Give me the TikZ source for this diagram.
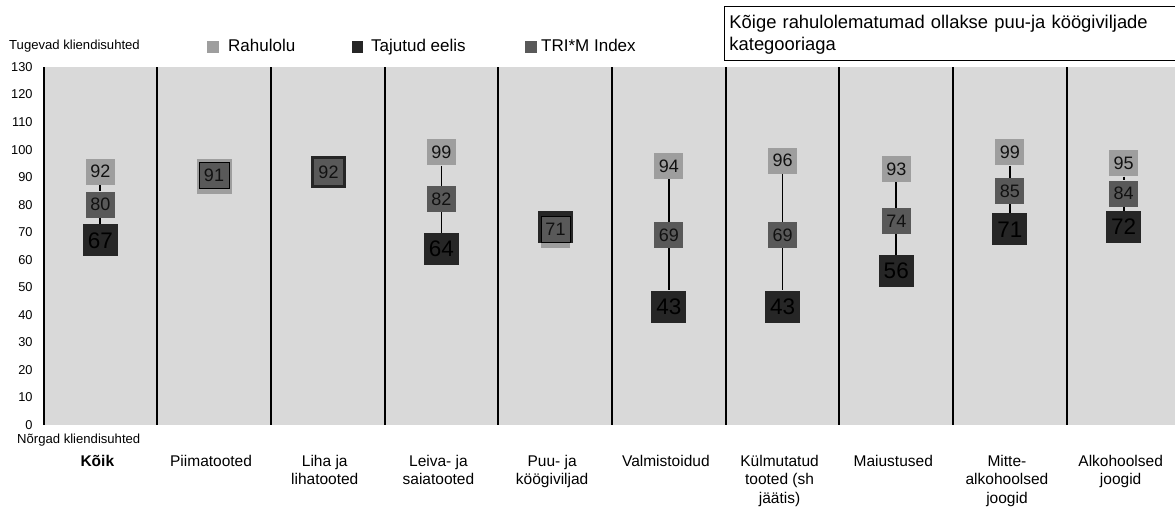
\documentclass[tikz,border=0pt]{standalone}
\usepackage{fontspec}
\setmainfont{Liberation Sans}
\definecolor{bg}{HTML}{D9D9D9}
\definecolor{rah}{HTML}{9E9E9E}
\definecolor{tri}{HTML}{595959}
\definecolor{taj}{HTML}{262626}
\definecolor{numtxt}{HTML}{111111}
\tikzset{
  rahbox/.style={fill=rah, minimum width=29pt, minimum height=26pt, inner sep=0pt,
    font=\fontsize{18}{18}\selectfont, text=numtxt},
  tribox/.style={fill=tri, minimum width=29pt, minimum height=26pt, inner sep=0pt,
    font=\fontsize{18}{18}\selectfont, text=numtxt},
  tajbox/.style={fill=taj, minimum width=35pt, minimum height=32pt, inner sep=0pt,
    font=\fontsize{22.5}{22.5}\selectfont, text=black},
  conn/.style={draw=black, line width=1.8pt},
  divider/.style={draw=black, line width=2pt},
  ticklbl/.style={anchor=east, inner sep=0pt, font=\fontsize{12.8}{13}\selectfont},
  axtitle/.style={anchor=base west, inner sep=0pt, font=\fontsize{13.1}{14}\selectfont},
  catlbl/.style={anchor=north, align=center, inner sep=0pt,
    font=\fontsize{15.5}{18.7}\selectfont},
  legsq/.style={minimum size=11.6pt, inner sep=0pt},
  legtxt/.style={anchor=base west, inner sep=0pt, font=\fontsize{17}{17}\selectfont},
  notebox/.style={draw=black, line width=0.9pt, anchor=north west, align=left,
    inner ysep=0pt, inner xsep=5.5pt, text width=470pt,
    font=\fontsize{18.4}{22}\selectfont},
}
\begin{document}
\begin{tikzpicture}[x=1pt,y=-1pt]
\useasboundingbox (0,0) rectangle (1175,507);
\fill[white] (0,0) rectangle (1175,507);
% plot area
\fill[bg] (43.5,67) rectangle (1176,425);
\foreach \k in {0,...,9}
  \draw[divider] ({43.5+113.7*\k},67) -- ({43.5+113.7*\k},425);
% y axis labels
\foreach \v in {0,10,...,130}
  \node[ticklbl] (tick\v) at (32.8,{425-2.754*\v}) {\v};
\node[axtitle] (strong) at (9,49.3) {Tugevad kliendisuhted};
\node[axtitle] (weak) at (17,443) {Nõrgad kliendisuhted};
% legend
\node[legsq, fill=rah] (lsq1) at (212.7,46.8) {};
\node[legtxt] (ltx1) at (228,51.7) {Rahulolu};
\node[legsq, fill=taj] (lsq2) at (357.5,46.8) {};
\node[legtxt] (ltx2) at (371,51.7) {Tajutud eelis};
\node[legsq, fill=tri] (lsq3) at (530.8,46.8) {};
\node[legtxt] (ltx3) at (541,51.7) {TRI*M Index};
% note box
\node[notebox] (note) at (723.5,6)
  {\rule{0pt}{22pt}Kõige rahulolematumad ollakse puu-ja köögiviljade\\kategooriaga\rule[-9.5pt]{0pt}{9.5pt}};
% regular columns
\foreach \i/\r/\t/\j in {0/92/80/67, 3/99/82/64, 5/94/69/43, 6/96/69/43, 7/93/74/56, 8/99/85/71, 9/95/84/72} {
  \pgfmathsetmacro\cx{43.5+113.7*(\i+0.5)}
  \node[rahbox] (r\i) at (\cx,{425-2.754*\r}) {\r};
  \node[tribox] (t\i) at (\cx,{425-2.754*\t}) {\t};
  \node[tajbox] (j\i) at (\cx,{425-2.754*\j}) {\j};
  \draw[conn] (r\i) -- (t\i);
  \draw[conn] (t\i) -- (j\i);
}
% Piimatooted
\node[fill=rah, minimum width=35pt, minimum height=35pt, inner sep=0pt] (r1) at (214.5,176.5) {};
\node[tribox, draw=black, line width=0.8pt, minimum width=30pt] (t1) at (214,175) {91};
% Liha ja lihatooted
\node[tribox, draw=taj, line width=3pt, minimum width=32pt, minimum height=29pt] (t2) at (328.5,172) {92};
% Puu- ja koogiviljad
\node[rahbox] (r4) at (555.5,234.7) {};
\node[fill=taj, minimum width=35pt, minimum height=32pt, inner sep=0pt] (j4) at (555.5,226.8) {};
\node[tribox, draw=black, line width=0.8pt] (t4) at (555.5,229.7) {71};
% category labels
\foreach \i/\txt in {0/{\bfseries Kõik}, 1/Piimatooted, 2/{Liha ja\\lihatooted}, 3/{Leiva- ja\\saiatooted},
  4/{Puu- ja\\köögiviljad}, 5/Valmistoidud, 6/{Külmutatud\\tooted (sh\\jäätis)}, 7/Maiustused,
  8/{Mitte-\\alkohoolsed\\joogid}, 9/{Alkohoolsed\\joogid}} {
  \pgfmathsetmacro\cx{43.5+113.7*(\i+0.5)-3}
  \node[catlbl] (cat\i) at (\cx,453) {\rule{0pt}{13pt}\txt};
}
\end{tikzpicture}
\end{document}
